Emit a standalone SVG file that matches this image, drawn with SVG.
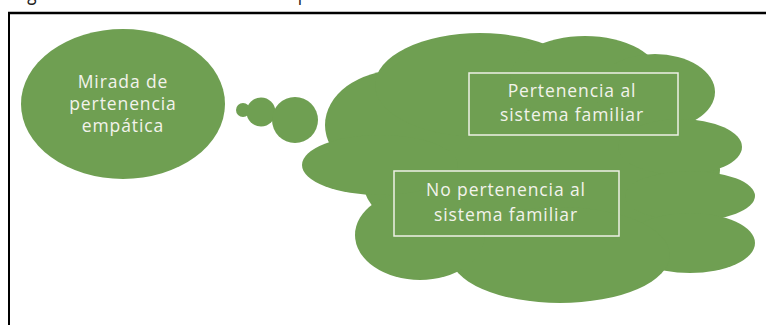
<svg xmlns="http://www.w3.org/2000/svg" width="766" height="325" viewBox="0 0 766 325">
  <style>
    .shape { fill: #6f9f52; }
    .label { font-family: "Open Sans", "Liberation Sans", sans-serif; font-size: 17.5px; fill: #f3f3ec; text-anchor: middle; letter-spacing: 0.9px; }
    .box { fill: none; stroke: #eef1e6; stroke-width: 1.5; }
    .caption { font-family: "Open Sans", "Liberation Sans", sans-serif; font-size: 22px; fill: #222; }
  </style>

  <rect width="766" height="325" fill="#ffffff"/>

  <!-- caption, clipped by the top edge -->
  <text class="caption" x="14" y="0.3" textLength="332" lengthAdjust="spacingAndGlyphs">Figura 1. Mirada de Pertenencia empática</text>

  <!-- frame -->
  <g id="frame" stroke="#000" fill="none">
    <line x1="8" y1="13" x2="766" y2="13" stroke-width="2.5"/>
    <line x1="9" y1="12" x2="9" y2="325" stroke-width="2"/>
  </g>

  <!-- source node -->
  <g id="node-mirada">
    <ellipse class="shape" cx="123" cy="104" rx="102" ry="75"/>
    <text class="label" x="123" y="88">Mirada de</text>
    <text class="label" x="123" y="110">pertenencia</text>
    <text class="label" x="123" y="132">empática</text>
  </g>

  <!-- thought bubbles linking the node to the cloud -->
  <g id="connectors">
    <circle class="shape" cx="243" cy="110" r="7"/>
    <circle class="shape" cx="261" cy="112" r="14.5"/>
    <circle class="shape" cx="295" cy="120" r="23"/>
  </g>

  <!-- cloud with its two options -->
  <g id="node-nube">
    <g class="shape">
      <ellipse cx="540" cy="170" rx="180" ry="100"/>
      <ellipse cx="400" cy="125" rx="75" ry="55"/>
      <ellipse cx="480" cy="85" rx="105" ry="52"/>
      <ellipse cx="585" cy="78" rx="75" ry="42"/>
      <ellipse cx="655" cy="92" rx="60" ry="38"/>
      <ellipse cx="680" cy="147" rx="62" ry="28"/>
      <ellipse cx="690" cy="196" rx="65" ry="25"/>
      <ellipse cx="690" cy="243" rx="65" ry="30"/>
      <ellipse cx="560" cy="255" rx="110" ry="48"/>
      <ellipse cx="420" cy="235" rx="65" ry="45"/>
      <ellipse cx="380" cy="165" rx="78" ry="30"/>
    </g>
  </g>

  <g id="node-pertenencia">
    <rect class="box" x="469" y="73" width="209" height="62"/>
    <text class="label" x="572" y="97">Pertenencia al</text>
    <text class="label" x="572" y="121">sistema familiar</text>
  </g>

  <g id="node-no-pertenencia">
    <rect class="box" x="394" y="171" width="225" height="65"/>
    <text class="label" x="506" y="196">No pertenencia al</text>
    <text class="label" x="506" y="221">sistema familiar</text>
  </g>
</svg>
